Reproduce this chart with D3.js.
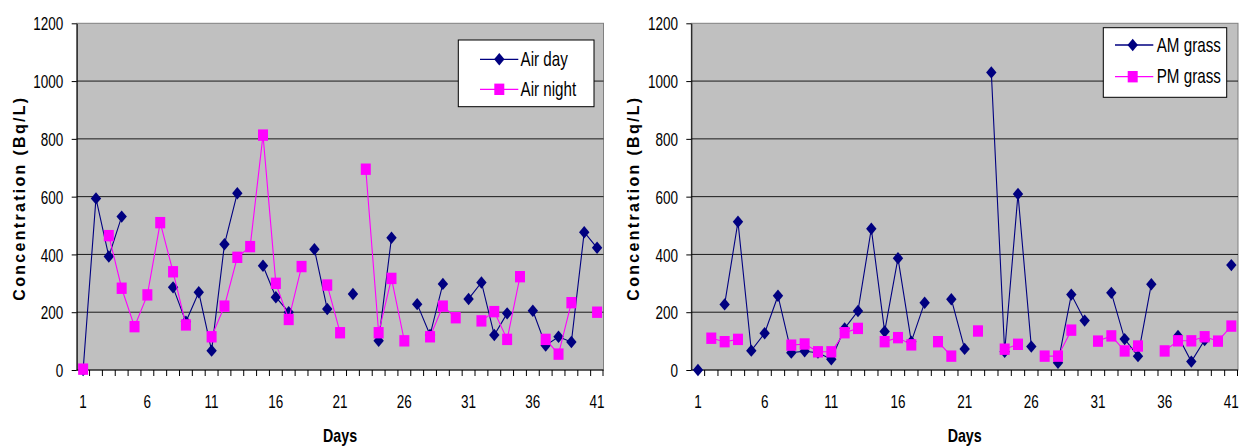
<!DOCTYPE html>
<html>
<head>
<meta charset="utf-8">
<script src="https://cdn.jsdelivr.net/npm/d3@7"></script>
<style>
  html, body { margin: 0; padding: 0; background: #ffffff; }
  svg { display: block; }
</style>
</head>
<body>
<svg id="chart" width="1239" height="447"></svg>
<script>
// ---------- DATA ----------
const days = d3.range(1, 42);
const xTickLabels = [1, 6, 11, 16, 21, 26, 31, 36, 41];
const yTickValues = [0, 200, 400, 600, 800, 1000, 1200];

const airDay = [0, 594, 393, 531, null, null, null, 286, 167, 269, 67, 435, 612, null, 361, 252, 200, null, 418, 211,
  null, 263, null, 101, 458, null, 228, 121, 298, null, 246, 303, 121, 196, null, 205, 85, 115, 97, 477, 423];
const airNight = [3, null, 465, 283, 150, 260, 510, 340, 156, null, 115, 221, 390, 427, 813, 300, 175, 358, null, 294,
  129, null, 695, 129, 317, 101, null, 115, 221, 181, null, 170, 202, 106, 323, null, 106, 55, 233, null, 200];
const amGrass = [0, null, 227, 513, 67, 127, 257, 60, 65, 60, 37, 144, 204, 489, 133, 387, 98, 233, null, 245,
  73, null, 1030, 63, 609, 81, null, 25, 261, 171, null, 267, 107, 48, 297, null, 118, 29, 104, null, 363];
const pmGrass = [null, 110, 98, 106, null, null, null, 86, 90, 63, 63, 129, 144, null, 98, 112, 87, null, 98, 48,
  null, 135, null, 72, 89, null, 48, 48, 138, null, 100, 118, 66, 83, null, 66, 101, 101, 115, 100, 152];

const leftSeries = [
  { name: "Air day", values: airDay, color: "#000080", marker: "diamond" },
  { name: "Air night", values: airNight, color: "#ff00ff", marker: "square" }
];
const rightSeries = [
  { name: "AM grass", values: amGrass, color: "#000080", marker: "diamond" },
  { name: "PM grass", values: pmGrass, color: "#ff00ff", marker: "square" }
];

// ---------- LAYOUT ----------
const FONT = "'Liberation Sans', Arial, Helvetica, sans-serif";
const svg = d3.select("#chart");

const panels = [
  { x0: 76.7, x1: 603.5, y0: 23.3, y1: 370, series: leftSeries,
    legend: { x: 458.3, y: 40, w: 135.7, h: 66.7, rows: [59.3, 89.3], lx0: 480, lx1: 518.3, mx: 499.3, tx: 520.5 },
    titleX: 24.5 },
  { x0: 691.3, x1: 1238, y0: 23.3, y1: 370, series: rightSeries,
    legend: { x: 1103.3, y: 27.7, w: 123.4, h: 69.6, rows: [45, 76.7], lx0: 1115, lx1: 1153.3, mx: 1132.7, tx: 1156.7 },
    titleX: 639 }
];

function markerPath(type) {
  if (type === "diamond") return "M0,-6.2L5.2,0L0,6.2L-5.2,0Z";
  return "M-5,-5.7H5V5.7H-5Z";
}

panels.forEach(p => {
  const x = d3.scaleBand().domain(days).range([p.x0, p.x1]).padding(0);
  const y = d3.scaleLinear().domain([0, 1200]).range([p.y1, p.y0]);
  const cx = d => x(d) + x.bandwidth() / 2;
  const g = svg.append("g");

  // plot area
  g.append("rect")
    .attr("x", p.x0).attr("y", p.y0)
    .attr("width", p.x1 - p.x0).attr("height", p.y1 - p.y0)
    .attr("fill", "#c0c0c0").attr("stroke", "#808080").attr("stroke-width", 1);

  // gridlines
  g.append("g").selectAll("line")
    .data(yTickValues.filter(v => v > 0 && v < 1200))
    .join("line")
    .attr("x1", p.x0).attr("x2", p.x1)
    .attr("y1", d => y(d)).attr("y2", d => y(d))
    .attr("stroke", "#1a1a1a").attr("stroke-width", 1);

  // y axis
  const yAxis = g.append("g")
    .attr("transform", `translate(${p.x0},0)`)
    .call(d3.axisLeft(y).tickValues(yTickValues).tickSize(5).tickSizeOuter(0).tickFormat(d3.format("d")));
  yAxis.select(".domain").attr("stroke", "#000");
  yAxis.selectAll(".tick line").attr("stroke", "#000");
  yAxis.selectAll(".tick text")
    .attr("font-family", FONT).attr("font-size", 18.5).attr("fill", "#000")
    .attr("x", -13.4 / 0.73).attr("dy", "0.36em")
    .attr("transform", "scale(0.73,1)");

  // x axis: line + tick marks at band boundaries
  const xAxisG = g.append("g").attr("transform", `translate(0,${p.y1})`);
  xAxisG.append("line").attr("x1", p.x0).attr("x2", p.x1).attr("y1", 0).attr("y2", 0).attr("stroke", "#000");
  xAxisG.selectAll("line.tk")
    .data(days.slice(1).concat([null]))
    .join("line").attr("class", "tk")
    .attr("x1", d => d === null ? p.x1 - 0.5 : x(d)).attr("x2", d => d === null ? p.x1 - 0.5 : x(d))
    .attr("y1", 0).attr("y2", 6).attr("stroke", "#000");

  const xLab = g.append("g")
    .attr("transform", `translate(0,${p.y1})`)
    .call(d3.axisBottom(x).tickValues(xTickLabels).tickSize(0).tickPadding(25));
  xLab.select(".domain").remove();
  xLab.selectAll(".tick text")
    .attr("font-family", FONT).attr("font-size", 18.5).attr("fill", "#000")
    .attr("transform", "scale(0.73,1)");

  // series
  const line = d3.line()
    .defined(d => d.v !== null)
    .x(d => cx(d.day)).y(d => y(d.v));

  p.series.forEach(s => {
    const pts = days.map((d, i) => ({ day: d, v: s.values[i] }));
    g.append("path").datum(pts)
      .attr("d", line).attr("fill", "none")
      .attr("stroke", s.color).attr("stroke-width", 1.1);
    g.append("g").selectAll("path")
      .data(pts.filter(d => d.v !== null))
      .join("path")
      .attr("d", markerPath(s.marker))
      .attr("transform", d => `translate(${cx(d.day)},${y(d.v)})`)
      .attr("fill", s.color);
  });

  // legend
  const L = p.legend;
  const lg = g.append("g");
  lg.append("rect").attr("x", L.x).attr("y", L.y).attr("width", L.w).attr("height", L.h)
    .attr("fill", "#fff").attr("stroke", "#000").attr("stroke-width", 1);
  p.series.forEach((s, i) => {
    const ry = L.rows[i];
    lg.append("line").attr("x1", L.lx0).attr("x2", L.lx1).attr("y1", ry).attr("y2", ry)
      .attr("stroke", s.color).attr("stroke-width", 1.3);
    lg.append("path").attr("d", markerPath(s.marker))
      .attr("transform", `translate(${L.mx},${ry})`).attr("fill", s.color);
    lg.append("text")
      .attr("transform", `translate(${L.tx},${ry + 6.6}) scale(0.76,1)`)
      .attr("font-family", FONT).attr("font-size", 20).attr("fill", "#000")
      .text(s.name);
  });

  // axis titles
  g.append("text")
    .attr("transform", `translate(${p.titleX},${(p.y0 + p.y1) / 2 + 1.5}) rotate(-90)`)
    .attr("text-anchor", "middle")
    .attr("font-family", FONT).attr("font-size", 16).attr("font-weight", "bold")
    .attr("letter-spacing", 2.3)
    .attr("fill", "#000")
    .text("Concentration (Bq/L)");

  g.append("text")
    .attr("transform", `translate(${(p.x0 + p.x1) / 2},442) scale(0.75,1)`)
    .attr("text-anchor", "middle")
    .attr("font-family", FONT).attr("font-size", 19).attr("font-weight", "bold")
    .attr("fill", "#000")
    .text("Days");
});
</script>
</body>
</html>
